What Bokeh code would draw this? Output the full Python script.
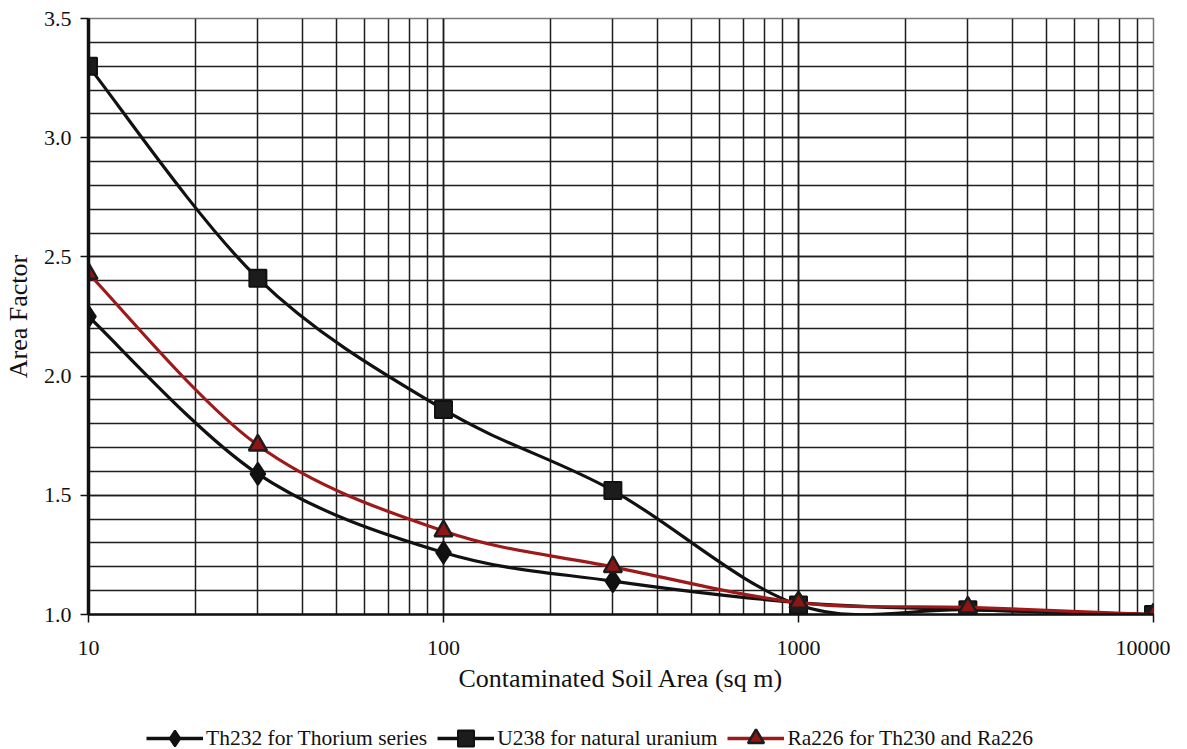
import numpy as np
from bokeh.plotting import figure
from bokeh.layouts import column
from bokeh.models import (Range1d, LogTicker, SingleIntervalTicker, BasicTickFormatter,
                          PrintfTickFormatter, Legend, LegendItem, ColumnDataSource)
from bokeh.embed import file_html
from bokeh.resources import INLINE

# ---- data ----
area = [10, 30, 100, 300, 1000, 3000, 10000]
th232 = [2.25, 1.59, 1.26, 1.14, 1.05, 1.02, 1.00]
u238 = [3.30, 2.41, 1.86, 1.52, 1.04, 1.02, 1.00]
ra226 = [2.43, 1.71, 1.35, 1.20, 1.05, 1.03, 1.00]

labels = ["Th232 for Thorium series", "U238 for natural uranium", "Ra226 for Th230 and Ra226"]
x_title = "Contaminated Soil Area (sq m)"
y_title = "Area Factor"

FONT = "Liberation Serif"
BLACK = "#111111"
RED = "#9e1a1a"


def smooth_segments(xs, ys):
    """Excel-like smoothed line: cubic bezier segments computed in (log10 x, y) space."""
    lx = np.log10(np.asarray(xs, dtype=float))
    y = np.asarray(ys, dtype=float)
    n = len(lx)
    d = dict(x0=[], y0=[], x1=[], y1=[], cx0=[], cy0=[], cx1=[], cy1=[])
    for i in range(n - 1):
        ip = max(i - 1, 0)
        inn = min(i + 2, n - 1)
        c0x = lx[i] + (lx[i + 1] - lx[ip]) / 6.0
        c0y = y[i] + (y[i + 1] - y[ip]) / 6.0
        c1x = lx[i + 1] - (lx[inn] - lx[i]) / 6.0
        c1y = y[i + 1] - (y[inn] - y[i]) / 6.0
        d["x0"].append(10 ** lx[i]); d["y0"].append(y[i])
        d["x1"].append(10 ** lx[i + 1]); d["y1"].append(y[i + 1])
        d["cx0"].append(10 ** c0x); d["cy0"].append(c0y)
        d["cx1"].append(10 ** c1x); d["cy1"].append(c1y)
    return d


p = figure(width=1170, height=709, x_axis_type="log",
           x_range=Range1d(10, 10000), y_range=Range1d(1.0, 3.5),
           output_backend="svg", toolbar_location=None,
           min_border_left=81, min_border_right=17, min_border_top=18, min_border_bottom=95)
p.background_fill_color = "white"
p.border_fill_color = "white"
p.outline_line_color = "#777777"
p.outline_line_width = 1.5

# axes
xa = p.xaxis[0]
xa.ticker = LogTicker(num_minor_ticks=10)
xa.formatter = BasicTickFormatter(use_scientific=False)
ya = p.yaxis[0]
ya.ticker = SingleIntervalTicker(interval=0.5, num_minor_ticks=5)
ya.formatter = PrintfTickFormatter(format="%.1f")

for ax in (xa, ya):
    ax.axis_line_color = BLACK
    ax.major_tick_line_color = BLACK
    ax.major_tick_line_width = 1.5
    ax.major_tick_out = 8
    ax.major_tick_in = 0
    ax.minor_tick_line_color = None
    ax.major_label_text_font = FONT
    ax.major_label_text_font_size = "22px"
    ax.major_label_text_color = "#111111"
    ax.axis_label_text_font = FONT
    ax.axis_label_text_font_size = "26px"
    ax.axis_label_text_font_style = "normal"
    ax.axis_label_text_color = "#111111"
xa.axis_line_width = 2.5
ya.axis_line_width = 3.5
xa.axis_label = x_title
ya.axis_label = y_title
xa.major_label_standoff = 18
xa.axis_label_standoff = 6
ya.major_label_standoff = 9
ya.axis_label_standoff = 8

# grids
for g in (p.xgrid[0], p.ygrid[0]):
    g.grid_line_color = "#1e1e1e"
    g.grid_line_width = 1.5
    g.minor_grid_line_color = "#1e1e1e"
    g.minor_grid_line_width = 1.5
p.xgrid[0].ticker = xa.ticker
p.ygrid[0].ticker = ya.ticker

# legend strip below the chart (its renderers use the same data, out of its view)
q = figure(width=1170, height=41, x_range=Range1d(-2, -1), y_range=Range1d(-2, -1),
           output_backend="svg", toolbar_location=None,
           x_axis_location=None, y_axis_location=None, min_border=0)
q.outline_line_color = None
q.grid.visible = False
q.background_fill_color = "white"
q.border_fill_color = "white"

items = []
series = [
    (th232, BLACK, "diamond", 22, 2, BLACK, BLACK, labels[0]),
    (u238, BLACK, "square", 17, 2, BLACK, "#1c1c1c", labels[1]),
    (ra226, RED, "triangle", 18, 2.5, "#1c1c1c", "#8e1515", labels[2]),
]
for ys, lc, marker, size, mlw, mlc, mfc, lab in series:
    seg = smooth_segments(area, ys)
    p.bezier(x0="x0", y0="y0", x1="x1", y1="y1", cx0="cx0", cy0="cy0",
             cx1="cx1", cy1="cy1", source=ColumnDataSource(seg), line_color=lc, line_width=3.2)
    p.scatter(area, ys, marker=marker, size=size, line_color=mlc,
              fill_color=mfc, line_width=mlw)
    lr = q.line(area, ys, line_color=lc, line_width=3.5)
    sr = q.scatter(area, ys, marker=marker, size=size, line_color=mlc,
                   fill_color=mfc, line_width=mlw)
    items.append(LegendItem(label=lab, renderers=[lr, sr]))

legend = Legend(items=items, orientation="horizontal", location=(58, -8),
                label_text_font=FONT, label_text_font_size="21.5px", label_text_color="#111111",
                glyph_width=57, glyph_height=40, label_standoff=3, spacing=10,
                padding=0, margin=0, border_line_color=None, background_fill_alpha=0,
                label_height=20)
q.add_layout(legend)

layout = column(p, q, spacing=0)
open("out.html", "w").write(file_html(layout, INLINE))
